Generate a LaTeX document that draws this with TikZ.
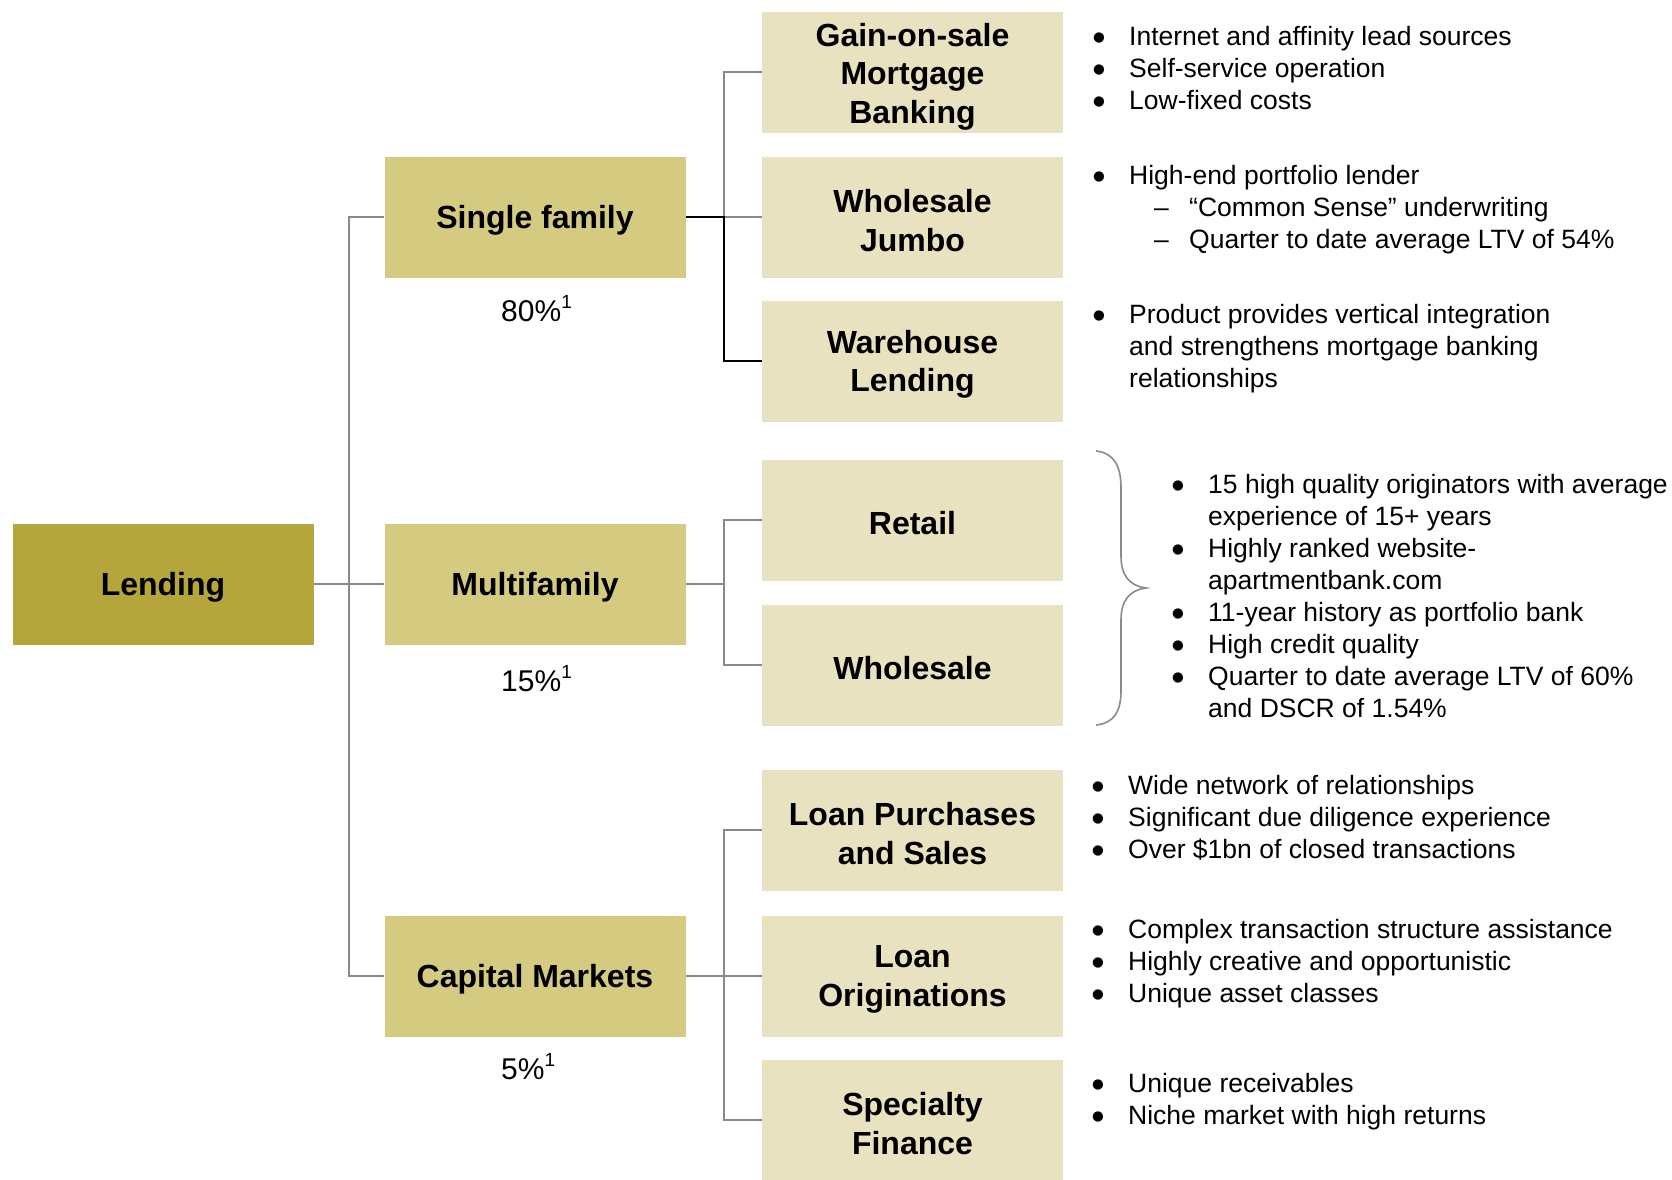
\documentclass[tikz,border=0pt]{standalone}
\usepackage{fontspec}
\setmainfont{Liberation Sans}
\newfontfamily\symfont{DejaVu Sans}
\definecolor{darkolive}{RGB}{181,166,59}
\definecolor{midolive}{RGB}{212,202,128}
\definecolor{lightolive}{RGB}{232,226,192}
\definecolor{linegray}{RGB}{138,138,138}
\newcommand{\bul}{{\symfont\fontsize{13.5}{14}\selectfont ●}}
\newcommand{\supone}{\raisebox{0.42em}{\fontsize{19}{19}\selectfont 1}}
\begin{document}
\begin{tikzpicture}[x=1pt,y=-1pt,
  boxbase/.style={draw=none,minimum width=301pt,minimum height=121pt,inner sep=0pt},
  rootbox/.style={boxbase,fill=darkolive},
  midbox/.style={boxbase,fill=midolive},
  leafbox/.style={boxbase,fill=lightolive},
  boxtext/.style={inner sep=0pt,align=center,yshift=-3.5pt,
    font=\bfseries\fontsize{32}{38.4}\selectfont},
  conn/.style={draw=linegray,line width=2pt},
  connk/.style={draw=black,line width=1.4pt},
  btxt/.style={anchor=base west,inner sep=0pt,font=\fontsize{26.5}{32}\selectfont},
  bdot/.style={anchor=base west,inner sep=0pt,yshift=3.8pt},
  pct/.style={anchor=base west,inner sep=0pt,font=\fontsize{30}{34}\selectfont}]
\useasboundingbox (0,0) rectangle (1672,1179);

% root
\node[rootbox] (lend) at (163,584) {};
% middle
\node[midbox] (sf) at (535,217) {};
\node[midbox] (mf) at (535,584) {};
\node[midbox] (cm) at (535,976) {};
% leaves
\node[leafbox] (gos) at (912.5,72) {};
\node[leafbox] (wj) at (912.5,217) {};
\node[leafbox] (wl) at (912.5,361) {};
\node[leafbox] (ret) at (912.5,520) {};
\node[leafbox] (whs) at (912.5,665) {};
\node[leafbox] (lps) at (912.5,830) {};
\node[leafbox] (lo) at (912.5,976) {};
\node[leafbox] (spf) at (912.5,1120) {};

% box texts
\node[boxtext] (lend-t) at (lend.center) {Lending};
\node[boxtext] (sf-t) at (sf.center) {Single family};
\node[boxtext] (mf-t) at (mf.center) {Multifamily};
\node[boxtext] (cm-t) at (cm.center) {Capital Markets};
\node[boxtext,yshift=-1pt] (gos-t) at (gos.center) {Gain-on-sale\\Mortgage\\Banking};
\node[boxtext] (wj-t) at (wj.center) {Wholesale\\Jumbo};
\node[boxtext] (wl-t) at (wl.center) {Warehouse\\Lending};
\node[boxtext] (ret-t) at (ret.center) {Retail};
\node[boxtext] (whs-t) at (whs.center) {Wholesale};
\node[boxtext] (lps-t) at (lps.center) {Loan Purchases\\and Sales};
\node[boxtext] (lo-t) at (lo.center) {Loan\\Originations};
\node[boxtext] (spf-t) at (spf.center) {Specialty\\Finance};

% junction coordinates
\coordinate (j0) at (349,584);
\coordinate (j1) at (724,217);
\coordinate (j2) at (724,584);
\coordinate (j3) at (724,976);

% connectors
\draw[conn] (lend.east) -- (j0);
\draw[conn] (sf.west) -| (j0) |- (cm.west);
\draw[conn] (j0) -- (mf.west);

\draw[conn] (gos.west) -| (j1) -- (wj.west);
\draw[connk] (sf.east) -- (j1) |- (wl.west);

\draw[conn] (mf.east) -- (j2);
\draw[conn] (ret.west) -| (j2) |- (whs.west);

\draw[conn] (cm.east) -- (j3) -- (lo.west);
\draw[conn] (lps.west) -| (j3) |- (spf.west);

% percentages
\node[pct] (p1) at (501,321) {80\%\supone};
\node[pct] (p2) at (501,691) {15\%\supone};
\node[pct] (p3) at (501,1079) {5\%\supone};

% bullets group 1
\foreach \yy/\tt [count=\i] in {35/Internet and affinity lead sources,67/Self-service operation,99/Low-fixed costs}{
  \node[bdot] (ga\i) at (1093,\yy+10) {\bul};
  \node[btxt] (gat\i) at (1129,\yy+10) {\tt};
}
% group 2
\node[bdot] (gb1) at (1093,184) {\bul};
\node[btxt] (gbt1) at (1129,184) {High-end portfolio lender};
\node[btxt] (gb2) at (1154,216) {–};
\node[btxt] (gbt2) at (1189,216) {“Common Sense" underwriting};
\node[btxt] (gb3) at (1154,248) {–};
\node[btxt] (gbt3) at (1189,248) {Quarter to date average LTV of 54\%};
% group 3
\node[bdot] (gc1) at (1093,323.5) {\bul};
\node[btxt] (gct1) at (1129,323.5) {Product provides vertical integration};
\node[btxt] (gct2) at (1129,355.5) {and strengthens mortgage banking};
\node[btxt] (gct3) at (1129,387.5) {relationships};
% group 4 (brace)
\draw[draw=linegray,line width=1.6pt] (1096,451) .. controls (1114,453) and (1121,466) .. (1121,488)
  -- (1121,556) .. controls (1121,576) and (1130,586) .. (1146,588)
  .. controls (1130,590) and (1121,600) .. (1121,620)
  -- (1121,690) .. controls (1121,712) and (1114,723) .. (1096,725);
\node[bdot] (gd1) at (1172,493) {\bul};
\node[btxt] (gdt1) at (1208,493) {15 high quality originators with average};
\node[btxt] (gdt1b) at (1208,525) {experience of 15+ years};
\node[bdot] (gd2) at (1172,557) {\bul};
\node[btxt] (gdt2) at (1208,557) {Highly ranked website-};
\node[btxt] (gdt2b) at (1208,589) {apartmentbank.com};
\node[bdot] (gd3) at (1172,621) {\bul};
\node[btxt] (gdt3) at (1208,621) {11-year history as portfolio bank};
\node[bdot] (gd4) at (1172,653) {\bul};
\node[btxt] (gdt4) at (1208,653) {High credit quality};
\node[bdot] (gd5) at (1172,685) {\bul};
\node[btxt] (gdt5) at (1208,685) {Quarter to date average LTV of 60\%};
\node[btxt] (gdt5b) at (1208,717) {and DSCR of 1.54\%};
% group 5
\foreach \yy/\tt [count=\i] in {784/Wide network of relationships,816/Significant due diligence experience,848/Over \$1bn of closed transactions}{
  \node[bdot] (ge\i) at (1092,\yy+10) {\bul};
  \node[btxt] (get\i) at (1128,\yy+10) {\tt};
}
% group 6
\foreach \yy/\tt [count=\i] in {928/Complex transaction structure assistance,960/Highly creative and opportunistic,992/Unique asset classes}{
  \node[bdot] (gf\i) at (1092,\yy+10) {\bul};
  \node[btxt] (gft\i) at (1128,\yy+10) {\tt};
}
% group 7
\foreach \yy/\tt [count=\i] in {1082/Unique receivables,1114/Niche market with high returns}{
  \node[bdot] (gg\i) at (1092,\yy+10) {\bul};
  \node[btxt] (ggt\i) at (1128,\yy+10) {\tt};
}
\end{tikzpicture}
\end{document}
